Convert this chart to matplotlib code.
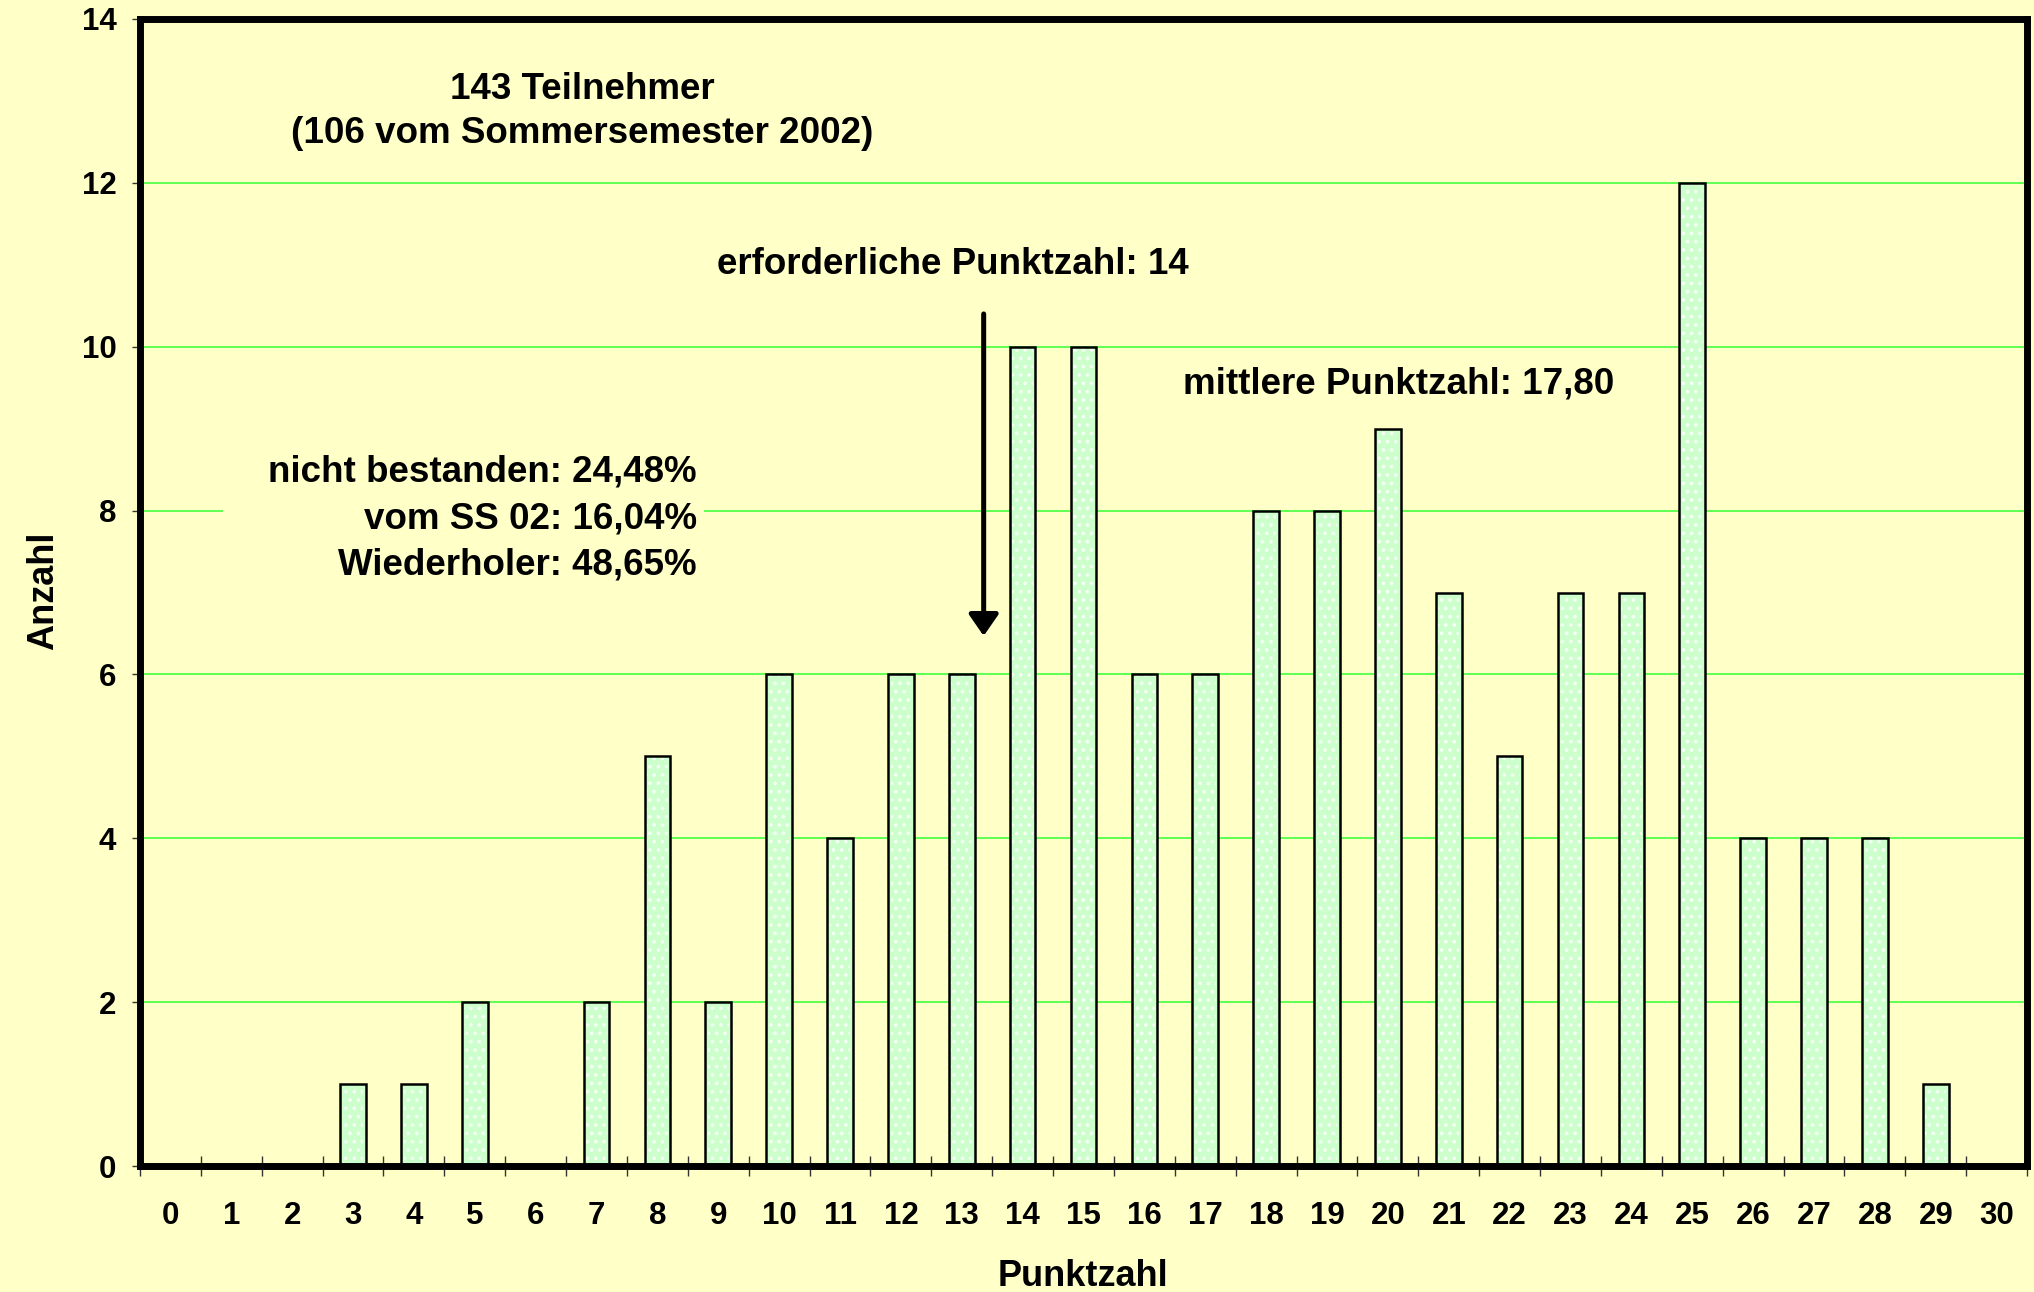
import numpy as np
import matplotlib
matplotlib.use("Agg")
import matplotlib.pyplot as plt
from matplotlib.patches import Rectangle

# punkte 0..30 und anzahl teilnehmer
punkte = list(range(0, 31))
anzahl = [0, 0, 0, 1, 1, 2, 0, 2, 5, 2, 6, 4, 6, 6, 10, 10,
          6, 6, 8, 8, 9, 7, 5, 7, 7, 12, 4, 4, 4, 1, 0]
y_ticks = [0, 2, 4, 6, 8, 10, 12, 14]

titel = "143 Teilnehmer\n(106 vom Sommersemester 2002)"
grenze_text = "erforderliche Punktzahl: 14"
mittel_text = "mittlere Punktzahl: 17,80"
quoten_text = "nicht bestanden: 24,48%\nvom SS 02: 16,04%\nWiederholer: 48,65%"

BG = "#ffffc8"
plt.rcParams["font.family"] = ["Liberation Sans", "DejaVu Sans"]
plt.rcParams["font.weight"] = "bold"
plt.rcParams["hatch.linewidth"] = 1.5

fig = plt.figure(figsize=(20.34, 12.92), dpi=100, facecolor=BG)
ax = fig.add_axes([0.0688, 0.0975, 0.9278, 0.8878])
ax.set_facecolor(BG)

x = np.array(punkte)
ax.bar(x, anzahl, width=0.42, color="#ccffcc", linewidth=0, zorder=2)
# weisse punkte als muster
ax.bar(x, anzahl, width=0.34, color="none", edgecolor="#f4fff4",
       hatch="..", linewidth=0, zorder=3)
ax.bar(x, anzahl, width=0.42, color="none", edgecolor="black",
       linewidth=1.8, zorder=4)

ax.set_xlim(-0.5, 30.5)
ax.set_ylim(0, 14)
ax.set_yticks(y_ticks)
ax.yaxis.grid(True, color="#33ff33", linewidth=1.1, zorder=0)
ax.set_axisbelow(True)

ax.set_xticks(x)
ax.set_xticklabels([str(p) for p in punkte], fontsize=22.5, fontweight="bold")
ax.set_xticks(np.arange(-0.5, 31, 1), minor=True)
ax.tick_params(axis="x", which="major", length=0, pad=25)
ax.tick_params(axis="x", which="minor", direction="inout", length=14,
               width=1, color="#333333")
ax.tick_params(axis="y", direction="out", length=6, width=1,
               color="#333333", pad=11, labelsize=22.5)
for lbl in ax.get_yticklabels():
    lbl.set_fontweight("bold")

for s in ax.spines.values():
    s.set_linewidth(5)
    s.set_color("black")
    s.set_zorder(5)

fig.text(0.0215, 0.543, "Anzahl", rotation=90, ha="center", va="center",
         fontsize=26, fontweight="bold")
fig.text(0.5325, 0.005, "Punktzahl", ha="center", va="baseline",
         fontsize=26, fontweight="bold")

# hintergrund hinter dem textblock (unterbricht gitterlinie)
ax.add_patch(Rectangle((0.044, 0.507), 0.255, 0.122, transform=ax.transAxes,
                       facecolor=BG, edgecolor="none", zorder=1))

ax.text(6.76, 12.87, titel, ha="center", va="center", fontsize=26.5,
        fontweight="bold", linespacing=1.33, zorder=6)
ax.text(12.85, 11.0, grenze_text, ha="center", va="center", fontsize=26.5,
        fontweight="bold", zorder=6)
ax.text(16.64, 9.55, mittel_text, ha="left", va="center", fontsize=26.5,
        fontweight="bold", zorder=6)
ax.text(8.65, 7.9, quoten_text, ha="right", va="center", fontsize=26.5,
        fontweight="bold", linespacing=1.42, zorder=6)

ax.annotate("", xy=(13.36, 6.47), xytext=(13.36, 10.4),
            arrowprops=dict(arrowstyle="-|>,head_length=0.26,head_width=0.18",
                            mutation_scale=50, lw=3.6, color="black",
                            shrinkA=0, shrinkB=0), zorder=6)

fig.savefig("out.png", dpi=100, facecolor=BG)
